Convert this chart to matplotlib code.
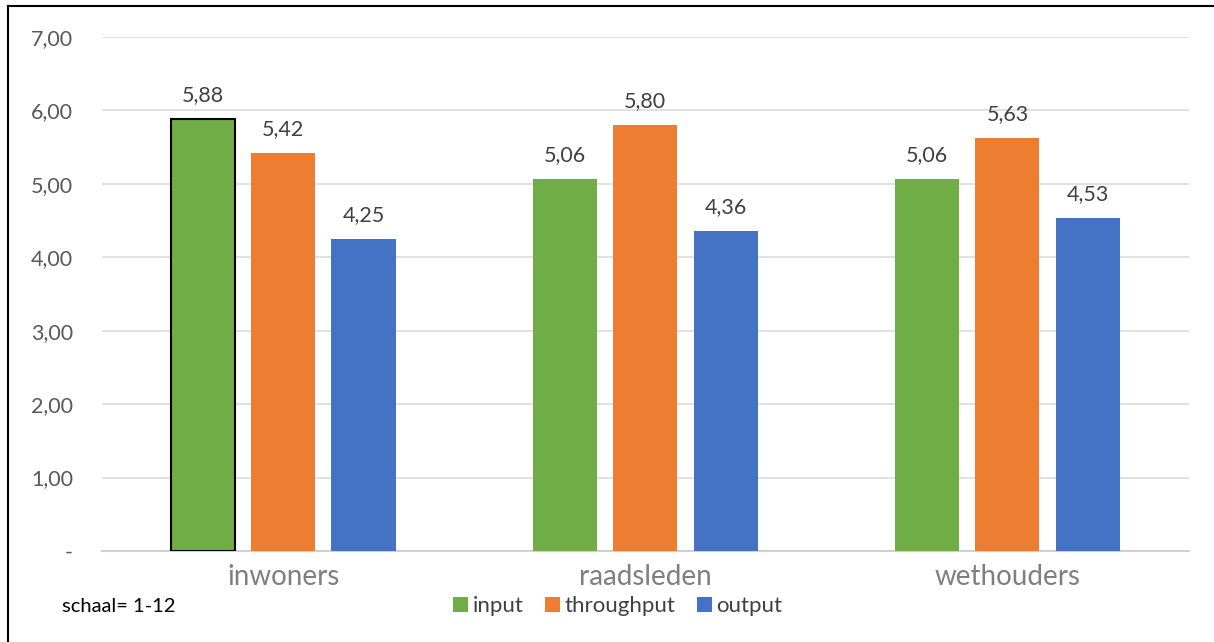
import matplotlib
matplotlib.use("Agg")
import matplotlib.pyplot as plt
from matplotlib.lines import Line2D
from matplotlib.patches import Patch
import numpy as np

plt.rcParams['font.family'] = ['Lato', 'DejaVu Sans']

categories = ["inwoners", "raadsleden", "wethouders"]
series_names = ["input", "throughput", "output"]
input_vals = [5.88, 5.06, 5.06]
throughput_vals = [5.42, 5.80, 5.63]
output_vals = [4.25, 4.36, 4.53]
y_ticks = [0, 1, 2, 3, 4, 5, 6, 7]
y_tick_labels = ["-", "1,00", "2,00", "3,00", "4,00", "5,00", "6,00", "7,00"]

colors = ["#70AD47", "#ED7D31", "#4472C4"]
series = [input_vals, throughput_vals, output_vals]

fig = plt.figure(figsize=(12.14, 6.42), dpi=100)
ax = fig.add_axes([0.084, 0.1417, 0.895, 0.8007])

x = np.arange(len(categories))
bar_w = 0.177
step = 0.222
for i, (vals, col) in enumerate(zip(series, colors)):
    pos = x + (i - 1) * step
    bars = ax.bar(pos, vals, width=bar_w, color=col, zorder=3)
    for b, v in zip(bars, vals):
        ax.text(b.get_x() + b.get_width() / 2, v + 0.19, f"{v:.2f}".replace(".", ","),
                ha="center", va="bottom", fontsize=15.5, color="#404040")

# highlighted bar outline
hl = ax.patches[0]
hl.set_edgecolor("black")
hl.set_linewidth(1.5)

ax.set_xlim(-0.5, 2.5)
ax.set_ylim(0, 7)
ax.set_yticks(y_ticks)
ax.set_yticklabels(y_tick_labels, fontsize=15.5, color="#595959")
ax.set_xticks(x)
ax.set_xticklabels(categories, fontsize=20, color="#7F7F7F")
ax.tick_params(axis="both", length=0)
ax.tick_params(axis="y", pad=21)
ax.tick_params(axis="x", pad=9)
ax.yaxis.grid(True, color="#D9D9D9", linewidth=1.1, zorder=0)
ax.set_axisbelow(True)
for s in ["top", "right", "left"]:
    ax.spines[s].set_visible(False)
ax.spines["bottom"].set_color("#D0D0D0")
ax.spines["bottom"].set_linewidth(1.5)

handles = [Patch(facecolor=c, edgecolor="none") for c in colors]
fig.legend(handles, series_names, loc="center", bbox_to_anchor=(0.509, 0.056),
           ncol=3, frameon=False, fontsize=16, handlelength=0.65, handleheight=0.65,
           handletextpad=0.2, columnspacing=1.0, labelcolor="#404040")

fig.text(0.051, 0.056, "schaal= 1-12", fontsize=14.5, color="black", va="center", ha="left")

# outer frame lines
fig.add_artist(Line2D([0.0066, 0.0066], [0.0, 0.991], transform=fig.transFigure,
                      color="black", linewidth=1.5))
fig.add_artist(Line2D([0.0066, 1.0], [0.991, 0.991], transform=fig.transFigure,
                      color="black", linewidth=1.5))

fig.savefig("out.png", dpi=100)
